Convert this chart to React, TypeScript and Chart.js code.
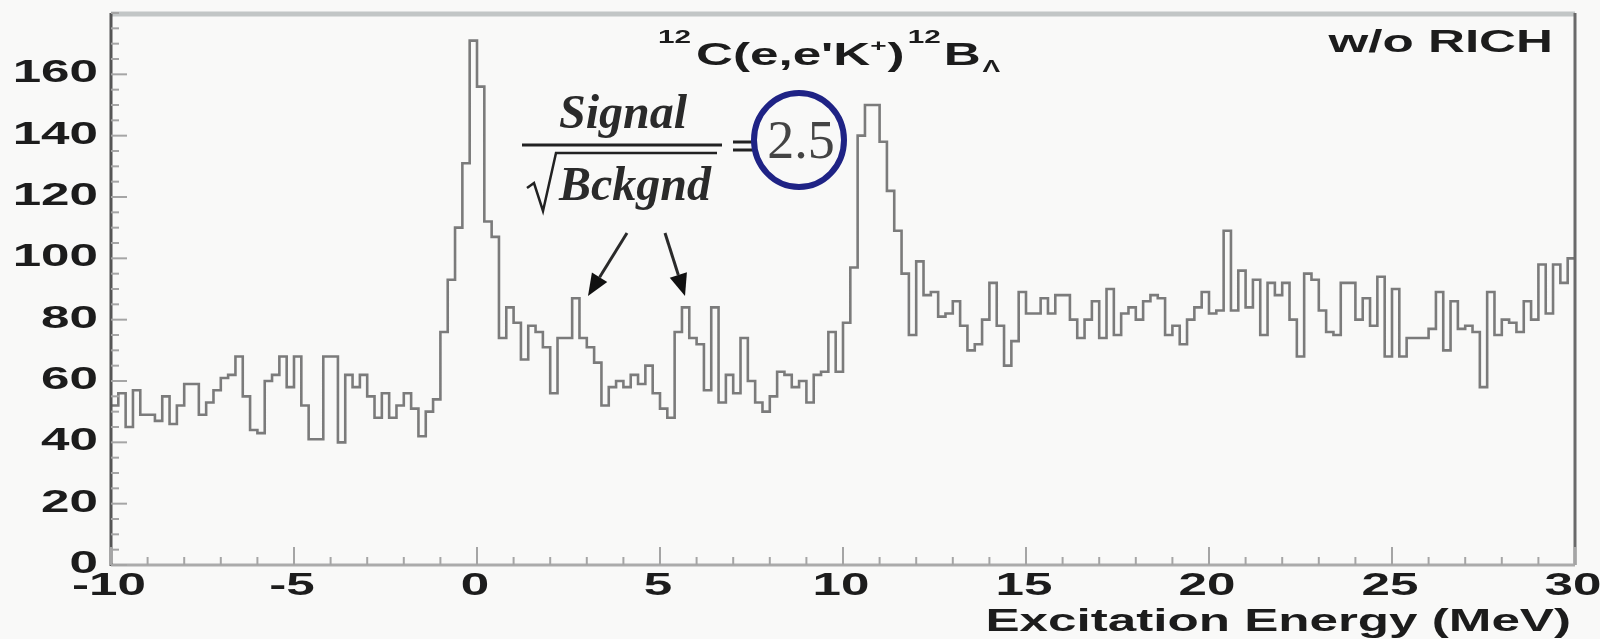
import React, { useEffect, useRef } from 'react';
import { Chart, registerables } from 'chart.js';

Chart.register(...registerables);

// Histogram binning (MeV)
const BIN_START = -10;
const BIN_WIDTH = 0.2;

// Counts per 0.2 MeV bin
const countsMinus10to0 = [
  52, 56, 45, 57, 49, 49, 47, 55, 46, 52,
  59, 59, 49, 53, 57, 61, 62, 68, 55, 44,
  43, 60, 62, 68, 58, 68, 52, 41, 41, 68,
  68, 40, 62, 58, 62, 55, 48, 56, 48, 52,
  56, 51, 42, 50, 54, 76, 93, 110, 131, 171,
];
const counts0to10 = [
  156, 112, 107, 74, 84, 79, 67, 78, 76, 71,
  56, 74, 74, 87, 74, 71, 66, 52, 58, 60,
  58, 62, 59, 65, 56, 51, 48, 76, 84, 74,
  72, 57, 84, 53, 62, 56, 74, 60, 53, 50,
  55, 63, 62, 58, 60, 53, 62, 63, 76, 63,
];
const counts10to20 = [
  79, 97, 140, 150, 150, 138, 122, 109, 95, 75,
  99, 88, 89, 81, 82, 86, 78, 70, 72, 80,
  92, 78, 65, 73, 89, 82, 82, 87, 82, 88,
  88, 80, 74, 80, 86, 74, 90, 75, 82, 84,
  80, 86, 88, 87, 75, 78, 72, 80, 84, 89,
];
const counts20to30 = [
  82, 83, 109, 83, 96, 84, 93, 75, 92, 88,
  92, 80, 68, 95, 93, 83, 76, 75, 92, 92,
  80, 87, 78, 94, 68, 90, 68, 74, 74, 74,
  77, 89, 70, 86, 77, 78, 76, 58, 89, 75,
  80, 79, 76, 86, 80, 98, 82, 98, 92, 100,
];

// Axes
const X_MIN = -10;
const X_MAX = 30;
const Y_MIN = 0;
const Y_MAX = 180;
const xMajorTicks = [-10, -5, 0, 5, 10, 15, 20, 25, 30];
const xTickLabels = ['-10', '-5', '0', '5', '10', '15', '20', '25', '30'];
const X_MINOR_STEP = 1;
const yMajorTicks = [0, 20, 40, 60, 80, 100, 120, 140, 160];
const yTickLabels = ['0', '20', '40', '60', '80', '100', '120', '140', '160'];
const Y_MINOR_STEP = 5;

// Texts
const xAxisTitle = 'Excitation Energy (MeV)';
const cornerLabel = 'w/o RICH';
const ratioNumerator = 'Signal';
const ratioDenominator = 'Bckgnd';
const ratioValue = '2.5';

const SANS = "'Liberation Sans', Arial, Helvetica, sans-serif";
const SERIF = "'Liberation Serif', 'Times New Roman', serif";
const SX = 1.65; // the original figure is horizontally stretched

function stretchedText(
  ctx: CanvasRenderingContext2D,
  text: string,
  x: number,
  y: number,
  size: number,
  align: CanvasTextAlign,
  color = '#1c1c1c',
  sx = SX
) {
  ctx.save();
  ctx.font = `bold ${size}px ${SANS}`;
  ctx.fillStyle = color;
  ctx.textAlign = align;
  ctx.textBaseline = 'alphabetic';
  ctx.translate(x, y);
  ctx.scale(sx, 1);
  ctx.fillText(text, 0, 0);
  ctx.restore();
}

function textWidth(ctx: CanvasRenderingContext2D, text: string, size: number, sx = SX) {
  ctx.save();
  ctx.font = `bold ${size}px ${SANS}`;
  const w = ctx.measureText(text).width * sx;
  ctx.restore();
  return w;
}

function arrow(ctx: CanvasRenderingContext2D, x0: number, y0: number, x1: number, y1: number) {
  const ang = Math.atan2(y1 - y0, x1 - x0);
  const headLen = 22;
  const headW = 9;
  const bx = x1 - headLen * Math.cos(ang);
  const by = y1 - headLen * Math.sin(ang);
  ctx.save();
  ctx.strokeStyle = '#2a2a2a';
  ctx.fillStyle = '#111';
  ctx.lineWidth = 3;
  ctx.beginPath();
  ctx.moveTo(x0, y0);
  ctx.lineTo(bx, by);
  ctx.stroke();
  ctx.beginPath();
  ctx.moveTo(x1, y1);
  ctx.lineTo(bx + headW * Math.sin(ang), by - headW * Math.cos(ang));
  ctx.lineTo(bx - headW * Math.sin(ang), by + headW * Math.cos(ang));
  ctx.closePath();
  ctx.fill();
  ctx.restore();
}

const decorPlugin = {
  id: 'rootDecor',
  beforeDraw(chart: any) {
    const ctx = chart.ctx as CanvasRenderingContext2D;
    ctx.save();
    ctx.fillStyle = '#f9f9f8';
    ctx.fillRect(0, 0, chart.width, chart.height);
    ctx.restore();
  },
  afterDraw(chart: any) {
    const ctx = chart.ctx as CanvasRenderingContext2D;
    const { left, right, top, bottom } = chart.chartArea;
    const xs = chart.scales.x;
    const ys = chart.scales.y;

    ctx.save();
    // frame
    ctx.strokeStyle = '#c2c6c6';
    ctx.lineWidth = 5;
    ctx.beginPath();
    ctx.moveTo(left, top + 1);
    ctx.lineTo(right, top + 1);
    ctx.stroke();

    ctx.strokeStyle = '#6a6a6a';
    ctx.lineWidth = 3;
    ctx.beginPath();
    ctx.moveTo(right, top);
    ctx.lineTo(right, bottom);
    ctx.stroke();

    ctx.strokeStyle = '#ababab';
    ctx.lineWidth = 3;
    ctx.beginPath();
    ctx.moveTo(left, bottom);
    ctx.lineTo(right, bottom);
    ctx.stroke();

    ctx.strokeStyle = '#555';
    ctx.lineWidth = 3;
    ctx.beginPath();
    ctx.moveTo(left, top);
    ctx.lineTo(left, bottom + 1);
    ctx.stroke();

    // x ticks (pointing up)
    ctx.strokeStyle = '#a5a5a5';
    ctx.lineWidth = 2;
    for (let v = X_MIN; v <= X_MAX + 1e-9; v += X_MINOR_STEP) {
      const px = xs.getPixelForValue(v);
      const major = xMajorTicks.includes(v);
      ctx.beginPath();
      ctx.moveTo(px, bottom);
      ctx.lineTo(px, bottom - (major ? 18 : 8));
      ctx.stroke();
    }
    // y ticks (pointing right)
    for (let v = Y_MIN; v <= Y_MAX + 1e-9; v += Y_MINOR_STEP) {
      const py = ys.getPixelForValue(v);
      const major = yMajorTicks.includes(v);
      ctx.beginPath();
      ctx.moveTo(left, py);
      ctx.lineTo(left + (major ? 16 : 8), py);
      ctx.stroke();
    }
    ctx.restore();

    // tick labels
    yMajorTicks.forEach((v, i) => {
      const py = ys.getPixelForValue(v);
      stretchedText(ctx, yTickLabels[i], 98, py + 8, 31, 'right');
    });
    xMajorTicks.forEach((v, i) => {
      const px = xs.getPixelForValue(v);
      stretchedText(ctx, xTickLabels[i], px - 2, 595, 31, 'center');
    });

    // axis title
    stretchedText(ctx, xAxisTitle, 1571, 631, 31, 'right');
    // corner label
    stretchedText(ctx, cornerLabel, 1553, 52, 31, 'right');

    // reaction title: 12C(e,e'K+)12B_Lambda
    const parts: [string, number, number, number][] = [
      ['12', 18, -22, 5],
      ["C(e,e'K", 31, 0, 0],
      ['+', 17, -14, 1],
      [')', 31, 0, 3],
      ['12', 18, -22, 3],
      ['B', 31, 0, 2],
      ['\u039B', 16, 7, 0],
    ];
    let cx = 658;
    const base = 65;
    parts.forEach(([t, s, dy, gap]) => {
      stretchedText(ctx, t, cx, base + dy, s, 'left');
      cx += textWidth(ctx, t, s) + gap;
    });

    // Signal / sqrt(Bckgnd) = 2.5 annotation
    ctx.save();
    ctx.fillStyle = '#2a2a2a';
    ctx.textBaseline = 'alphabetic';
    ctx.font = `italic bold 48px ${SERIF}`;
    ctx.textAlign = 'center';
    ctx.fillText(ratioNumerator, 623, 128);
    ctx.textAlign = 'left';
    ctx.fillText(ratioDenominator, 559, 200);

    ctx.strokeStyle = '#222';
    ctx.lineWidth = 3;
    ctx.beginPath();
    ctx.moveTo(522, 145);
    ctx.lineTo(722, 145);
    ctx.stroke();

    // radical sign
    ctx.lineWidth = 2.5;
    ctx.beginPath();
    ctx.moveTo(527, 188);
    ctx.lineTo(534, 183);
    ctx.lineTo(543, 211);
    ctx.lineTo(556, 153);
    ctx.lineTo(717, 153);
    ctx.stroke();

    // equals sign
    ctx.lineWidth = 3;
    ctx.beginPath();
    ctx.moveTo(733, 142);
    ctx.lineTo(753, 142);
    ctx.moveTo(733, 150);
    ctx.lineTo(753, 150);
    ctx.stroke();

    ctx.fillStyle = '#444';
    ctx.font = `54px ${SERIF}`;
    ctx.textAlign = 'center';
    ctx.fillText(ratioValue, 801, 158);

    ctx.strokeStyle = '#1f2385';
    ctx.lineWidth = 6;
    ctx.beginPath();
    ctx.ellipse(799, 140, 45, 47, 0, 0, Math.PI * 2);
    ctx.stroke();
    ctx.restore();

    arrow(ctx, 627, 233, 588, 296);
    arrow(ctx, 665, 233, 685, 296);
  },
};

export default function App() {
  const canvasRef = useRef<HTMLCanvasElement | null>(null);

  useEffect(() => {
    const canvas = canvasRef.current;
    if (!canvas) return;
    const counts = [...countsMinus10to0, ...counts0to10, ...counts10to20, ...counts20to30];
    const points = counts.map((c, i) => ({ x: BIN_START + i * BIN_WIDTH, y: c }));
    points.push({ x: BIN_START + counts.length * BIN_WIDTH, y: counts[counts.length - 1] });

    const chart = new Chart(canvas, {
      type: 'line',
      data: {
        datasets: [
          {
            data: points,
            stepped: 'before',
            borderColor: '#7b7b7b',
            borderWidth: 2.6,
            pointRadius: 0,
            fill: false,
          } as any,
        ],
      },
      options: {
        animation: false,
        responsive: false,
        devicePixelRatio: 1,
        parsing: false as any,
        normalized: true,
        layout: { padding: { left: 111, right: 25, top: 13, bottom: 74 } },
        plugins: { legend: { display: false }, tooltip: { enabled: false }, title: { display: false } },
        events: [],
        scales: {
          x: { type: 'linear', min: X_MIN, max: X_MAX, display: false },
          y: { type: 'linear', min: Y_MIN, max: Y_MAX, display: false },
        },
      },
      plugins: [decorPlugin],
    });
    return () => chart.destroy();
  }, []);

  return (
    <div style={{ position: 'absolute', left: 0, top: 0, width: 1600, height: 639, overflow: 'hidden' }}>
      <canvas ref={canvasRef} width={1600} height={639} style={{ display: 'block' }} />
    </div>
  );
}
